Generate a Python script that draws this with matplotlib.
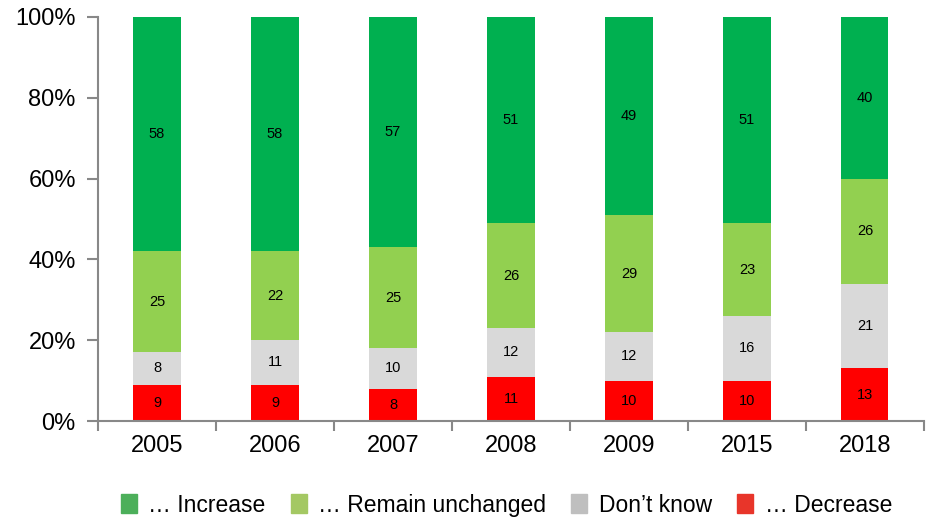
import numpy as np
import matplotlib
matplotlib.use('Agg')
from matplotlib import pyplot as plt
from matplotlib.patches import Patch

plt.rcParams['font.family'] = ['Liberation Sans', 'DejaVu Sans']

years = ['2005', '2006', '2007', '2008', '2009', '2015', '2018']
decrease = [9, 9, 8, 11, 10, 10, 13]
dont_know = [8, 11, 10, 12, 12, 16, 21]
unchanged = [25, 22, 25, 26, 29, 23, 26]
increase = [58, 58, 57, 51, 49, 51, 40]

series = [decrease, dont_know, unchanged, increase]
bar_colors = ['#FF0000', '#D9D9D9', '#92D050', '#00B050']

fig = plt.figure(figsize=(9.29, 5.23), dpi=100)
ax = fig.add_axes([0.1055, 0.195, 0.889, 0.7725])

x = np.arange(len(years))
bottom = np.zeros(len(years))
for vals, col in zip(series, bar_colors):
    vals = np.array(vals)
    ax.bar(x, vals, 0.4, bottom=bottom, color=col, edgecolor='none')
    for xi, b, v in zip(x, bottom, vals):
        ax.text(xi, b + v / 2, str(v), ha='center', va='center', fontsize=10.5)
    bottom += vals

ax.set_xlim(-0.5, len(years) - 0.5)
ax.set_ylim(0, 100)
ax.set_yticks(range(0, 101, 20))
ax.set_yticklabels([f'{v}%' for v in range(0, 101, 20)], fontsize=17)
ax.set_xticks(x)
ax.set_xticklabels(years, fontsize=17)
ax.tick_params(axis='x', length=0, pad=10)
ax.set_xticks(np.arange(len(years) + 1) - 0.5, minor=True)
ax.tick_params(axis='x', which='minor', length=7, color='#888888', width=1.5)
ax.tick_params(axis='y', length=8, color='#888888', width=1.5, pad=8)

for s in ['top', 'right']:
    ax.spines[s].set_visible(False)
for s in ['left', 'bottom']:
    ax.spines[s].set_color('#888888')
    ax.spines[s].set_linewidth(1.5)

legend_labels = ['\u2026 Increase', '\u2026 Remain unchanged', 'Don\u2019t know', '\u2026 Decrease']
legend_colors = ['#4CAF5A', '#A4C863', '#BFBFBF', '#E8352A']
handles = [Patch(color=c, label=l) for c, l in zip(legend_colors, legend_labels)]
fig.legend(handles=handles, loc='center', bbox_to_anchor=(0.545, 0.034), ncol=4,
           frameon=False, fontsize=16.5, handlelength=0.7, handleheight=0.9,
           handletextpad=0.5, columnspacing=1.1)

fig.savefig('out.png', dpi=100)
